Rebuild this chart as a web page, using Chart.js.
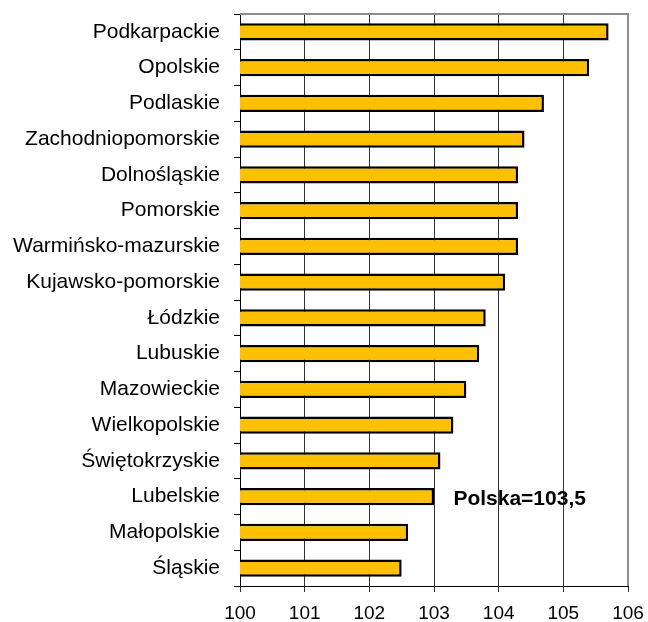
<!DOCTYPE html>
<html>
<head>
<meta charset="utf-8">
<script src="https://cdn.jsdelivr.net/npm/chart.js@4/dist/chart.umd.min.js"></script>
<style>
  html, body { margin: 0; padding: 0; background: #fff; }
</style>
</head>
<body>
<canvas id="chart" width="648" height="622"></canvas>
<script>
const regions = [
  "Podkarpackie", "Opolskie", "Podlaskie", "Zachodniopomorskie", "Dolnośląskie",
  "Pomorskie", "Warmińsko-mazurskie", "Kujawsko-pomorskie", "Łódzkie", "Lubuskie",
  "Mazowieckie", "Wielkopolskie", "Świętokrzyskie", "Lubelskie", "Małopolskie", "Śląskie"
];
const values = [105.7, 105.4, 104.7, 104.4, 104.3, 104.3, 104.3, 104.1, 103.8, 103.7, 103.5, 103.3, 103.1, 103.0, 102.6, 102.5];
const xTicks = [100, 101, 102, 103, 104, 105, 106];
const polskaLabel = "Polska=103,5";

const FONT = "'Liberation Sans', Arial, sans-serif";

// frame on top and right of the plot area, plus the Polska note
const framePlugin = {
  id: 'frame',
  afterDatasetsDraw(chart) {
    const { ctx, chartArea: a, scales } = chart;
    ctx.save();
    ctx.strokeStyle = '#8c8c8c';
    ctx.lineWidth = 2;
    ctx.beginPath();
    ctx.moveTo(a.left, a.top);
    ctx.lineTo(a.right, a.top);
    ctx.lineTo(a.right, a.bottom);
    ctx.stroke();

    ctx.fillStyle = '#000';
    ctx.font = "bold 21px " + FONT;
    ctx.textBaseline = 'middle';
    ctx.textAlign = 'left';
    ctx.fillText(polskaLabel, scales.x.getPixelForValue(103.3), scales.y.getPixelForValue(13) + 3);
    ctx.restore();
  }
};

new Chart(document.getElementById('chart'), {
  type: 'bar',
  data: {
    labels: regions,
    datasets: [{
      data: values,
      backgroundColor: '#FFC000',
      borderColor: '#000',
      borderWidth: 2.5,
      borderSkipped: false,
      barPercentage: 0.9,
      categoryPercentage: 0.53
    }]
  },
  options: {
    indexAxis: 'y',
    responsive: false,
    animation: false,
    layout: { padding: { top: 14, right: 20, left: 0, bottom: 0 } },
    plugins: {
      legend: { display: false },
      tooltip: { enabled: false }
    },
    scales: {
      x: {
        min: 100,
        max: 106,
        afterFit: scale => {
          scale.height = 36;
          scale.paddingLeft = 0;
          scale.paddingRight = 0;
        },
        afterBuildTicks: scale => { scale.ticks = xTicks.map(v => ({ value: v })); },
        grid: { color: '#333', lineWidth: 1, tickLength: 6, drawTicks: true },
        border: { color: '#000', width: 1 },
        ticks: { color: '#000', padding: 10, font: { family: FONT, size: 19 } }
      },
      y: {
        afterFit: scale => {
          scale.width = 240;
          scale.paddingTop = 0;
          scale.paddingBottom = 0;
        },
        grid: { drawOnChartArea: false, color: '#000', tickLength: 6 },
        border: { color: '#000', width: 1 },
        ticks: { color: '#000', padding: 14, font: { family: FONT, size: 21 } }
      }
    }
  },
  plugins: [framePlugin]
});
</script>
</body>
</html>
